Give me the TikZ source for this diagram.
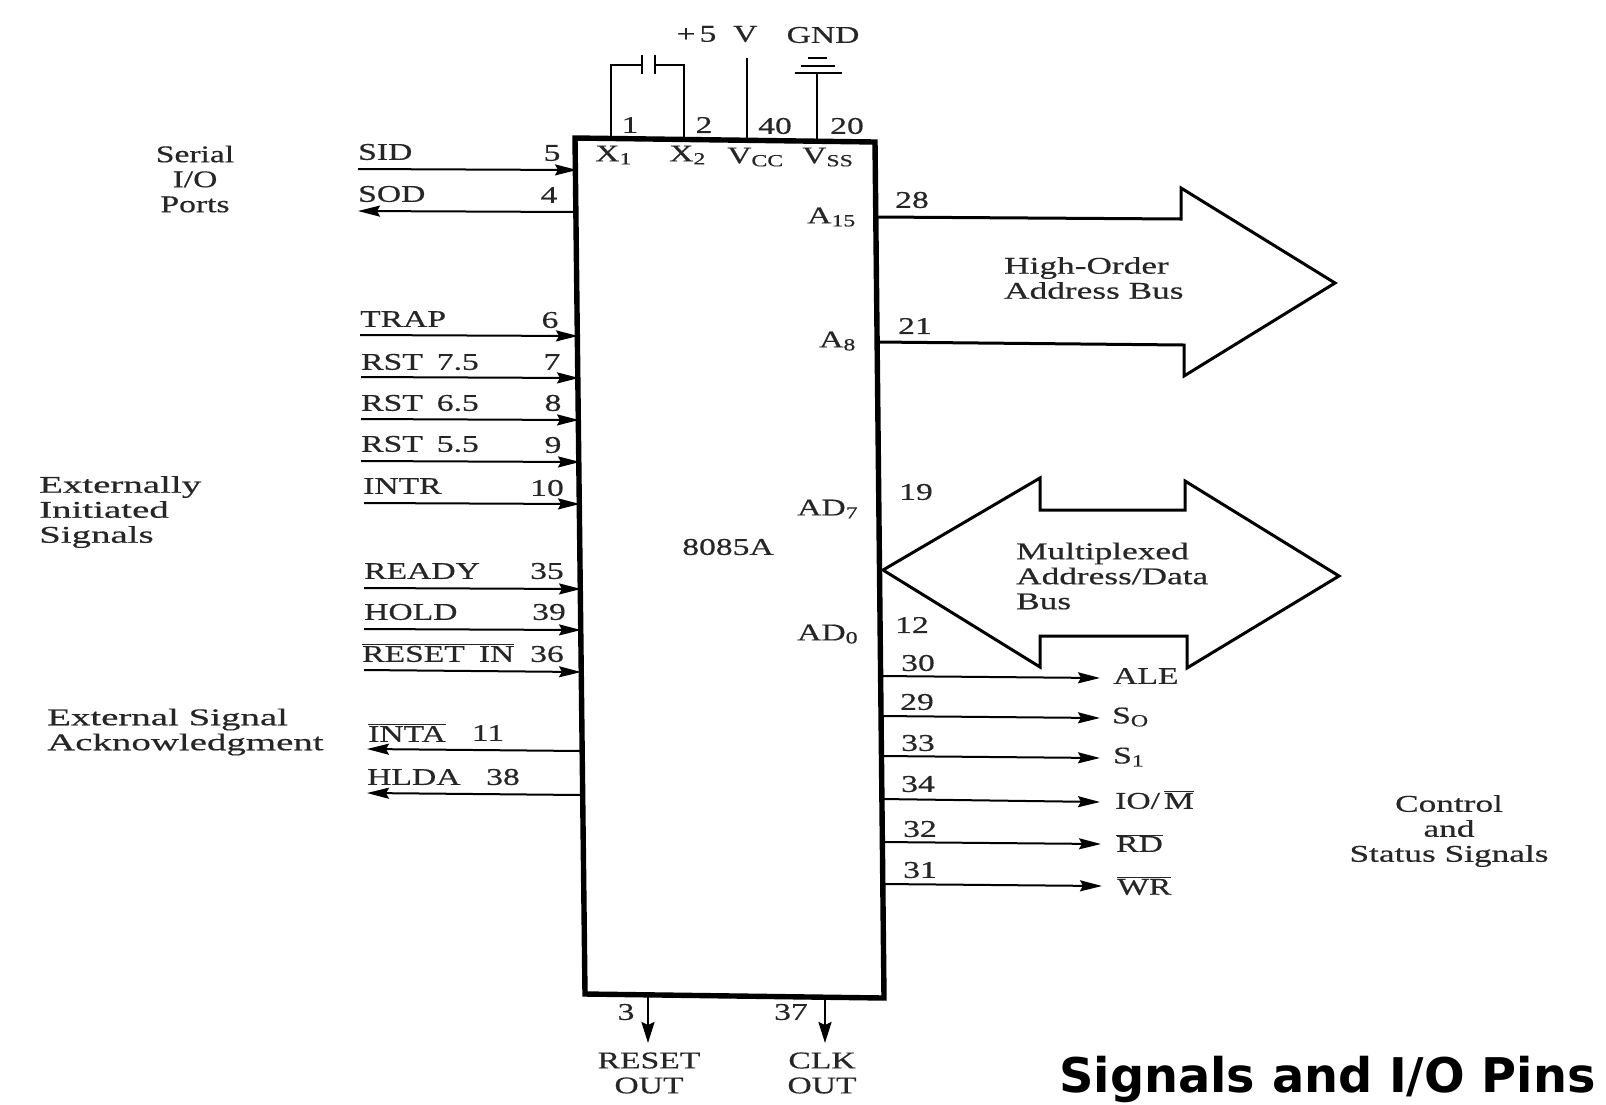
\documentclass[tikz,border=0pt]{standalone}
\usepackage{fontspec}
\setmainfont[FakeStretch=1.4,FakeBold=0.5]{Liberation Serif}
\newfontfamily\midfont[FakeStretch=1.47,FakeBold=0.5]{Liberation Serif}
\newfontfamily\widefont[FakeStretch=1.62,FakeBold=0.5]{Liberation Serif}
\newfontfamily\titlefont{DejaVu Sans}
\usetikzlibrary{arrows.meta}
\newcommand{\subs}[1]{\raisebox{-3pt}{\fontsize{17}{18}\selectfont #1}}
\newcommand{\ovl}[1]{$\overline{\mbox{#1}}$}
\tikzset{
  x=1pt,y=-1pt,
  lab/.style={inner sep=0pt,anchor=west,font=\fontsize{24}{25}\selectfont,text=black!85},
  num/.style={inner sep=0pt,anchor=center,font=\fontsize{24}{25}\selectfont,text=black!85},
  blk/.style={inner sep=0pt,align=left,anchor=west,font=\midfont\fontsize{24}{25}\selectfont,text=black!85},
  wideblk/.style={blk,font=\widefont\fontsize{24}{25}\selectfont},
  ctr/.style={inner sep=0pt,align=center,anchor=center,font=\fontsize{24}{25}\selectfont,text=black!85},
  chipline/.style={line width=5.4pt,line join=miter},
  wire/.style={line width=2.6pt},
  sigin/.style={line width=2pt,-{Stealth[length=22pt,width=11pt,inset=3pt]}},
  downarrow/.style={line width=2.6pt,-{Stealth[length=21pt,width=13pt,inset=3pt]}},
  busline/.style={line width=3pt,line join=miter},
}
\begin{document}
\begin{tikzpicture}
\useasboundingbox (0,0) rectangle (1606,1104);
% chip
\coordinate (tl) at (575,138);
\coordinate (tr) at (875,142);
\coordinate (br) at (884,998);
\coordinate (bl) at (585,994);
\draw[chipline] (tl) -- (tr) -- (br) -- (bl) -- cycle;
\node[num] (chipname) at (728,547) {8085A};
% top pins
\coordinate (x1p) at (611,138); \coordinate (x1t) at (611,65);
\coordinate (x2p) at (684,139); \coordinate (x2t) at (684,65);
\coordinate (capl) at (642,65); \coordinate (capr) at (655,65);
\coordinate (capla) at (642,55); \coordinate (caplb) at (642,74);
\coordinate (capra) at (655,55); \coordinate (caprb) at (655,74);
\draw[wire] (x1p) -- (x1t) -- (capl);
\draw[wire] (x2p) -- (x2t) -- (capr);
\draw[wire] (capla) -- (caplb);
\draw[wire] (capra) -- (caprb);
\coordinate (vccp) at (747,140); \coordinate (vcct) at (747,58);
\draw[wire] (vccp) -- (vcct);
\coordinate (vssp) at (817,141); \coordinate (vsst) at (817,73);
\draw[wire] (vssp) -- (vsst);
\coordinate (g1a) at (795,73); \coordinate (g1b) at (842,73);
\coordinate (g2a) at (801,66); \coordinate (g2b) at (835,66);
\coordinate (g3a) at (808,58); \coordinate (g3b) at (827,58);
\draw[wire] (g1a) -- (g1b);
\draw[wire] (g2a) -- (g2b);
\draw[wire] (g3a) -- (g3b);
\node[num] (n1) at (630,125) {1};
\node[num] (n2) at (704,125) {2};
\node[num] (n40) at (775,126) {40};
\node[num] (n20) at (847,126) {20};
\node[lab] (lx1) at (595,155) {X\subs{1}};
\node[lab] (lx2) at (669,155) {X\subs{2}};
\node[lab] (lvcc) at (727,157) {V\subs{CC}};
\node[lab] (lvss) at (802,157) {V\subs{SS}};
\node[num] (l5v) at (717,34) {+\,5\ \ V};
\node[num] (lgnd) at (823,35) {GND};
% left signals
\coordinate (sida) at (358,169); \coordinate (sidb) at (577,170);
\coordinate (soda) at (358,211); \coordinate (sodb) at (577,212);
\coordinate (trapa) at (360,335); \coordinate (trapb) at (578,336);
\coordinate (r75a) at (361,377); \coordinate (r75b) at (579,378);
\coordinate (r65a) at (361,419); \coordinate (r65b) at (579,420);
\coordinate (r55a) at (361,461); \coordinate (r55b) at (580,462);
\coordinate (intra) at (364,503); \coordinate (intrb) at (580,504);
\coordinate (rdya) at (364,588); \coordinate (rdyb) at (581,589);
\coordinate (hlda) at (364,629); \coordinate (hldb) at (581,630);
\coordinate (rsta) at (364,670); \coordinate (rstb) at (581,672);
\coordinate (intaa) at (367,749); \coordinate (intab) at (582,751);
\coordinate (hldaa) at (367,793); \coordinate (hldab) at (582,795);
\draw[sigin] (sida) -- (sidb);
\draw[sigin] (sodb) -- (soda);
\draw[sigin] (trapa) -- (trapb);
\draw[sigin] (r75a) -- (r75b);
\draw[sigin] (r65a) -- (r65b);
\draw[sigin] (r55a) -- (r55b);
\draw[sigin] (intra) -- (intrb);
\draw[sigin] (rdya) -- (rdyb);
\draw[sigin] (hlda) -- (hldb);
\draw[sigin] (rsta) -- (rstb);
\draw[sigin] (intab) -- (intaa);
\draw[sigin] (hldab) -- (hldaa);
\node[lab] (lsid) at (358,152) {SID};
\node[lab] (lsod) at (358,194) {SOD};
\node[lab] (ltrap) at (360,319) {TRAP};
\node[lab] (lr75) at (361,362) {RST\hspace{14pt}7.5};
\node[lab] (lr65) at (361,403) {RST\hspace{14pt}6.5};
\node[lab] (lr55) at (361,444) {RST\hspace{14pt}5.5};
\node[lab] (lintr) at (363,486) {INTR};
\node[lab] (lrdy) at (364,571) {READY};
\node[lab] (lhld) at (364,612) {HOLD};
\node[lab] (lrst) at (362,653) {\ovl{RESET\hspace{14pt}IN}};
\node[lab] (linta) at (368,733) {\ovl{INTA}};
\node[lab] (lhlda) at (367,777) {HLDA};
\node[num] (n5) at (552,153) {5};
\node[num] (n4) at (549,195) {4};
\node[num] (n6) at (550,320) {6};
\node[num] (n7) at (552,362) {7};
\node[num] (n8) at (553,403) {8};
\node[num] (n9) at (553,445) {9};
\node[num] (n10) at (547,488) {10};
\node[num] (n35) at (547,571) {35};
\node[num] (n39) at (549,612) {39};
\node[num] (n36) at (547,654) {36};
\node[num] (n11) at (488,733) {11};
\node[num] (n38) at (503,777) {38};
\node[ctr] (gserial) at (195,179) {Serial\\I/O\\Ports};
\node[wideblk] (gext) at (39,512) {Externally\\Initiated\\Signals};
\node[wideblk] (gack) at (47,732) {External Signal\\Acknowledgment};
% right signals
\coordinate (alea) at (881,676); \coordinate (aleb) at (1100,678);
\coordinate (s0a) at (881,716); \coordinate (s0b) at (1100,718);
\coordinate (s1a) at (882,756); \coordinate (s1b) at (1100,758);
\coordinate (ioa) at (882,799); \coordinate (iob) at (1100,802);
\coordinate (rda) at (882,842); \coordinate (rdb) at (1101,844);
\coordinate (wra) at (883,884); \coordinate (wrb) at (1102,886);
\draw[sigin] (alea) -- (aleb);
\draw[sigin] (s0a) -- (s0b);
\draw[sigin] (s1a) -- (s1b);
\draw[sigin] (ioa) -- (iob);
\draw[sigin] (rda) -- (rdb);
\draw[sigin] (wra) -- (wrb);
\node[num] (n30) at (918,663) {30};
\node[num] (n29) at (917,702) {29};
\node[num] (n33) at (918,743) {33};
\node[num] (n34) at (918,784) {34};
\node[num] (n32) at (920,829) {32};
\node[num] (n31) at (920,870) {31};
\node[lab] (lale) at (1113,676) {ALE};
\node[lab] (ls0) at (1112,717) {S\subs{O}};
\node[lab] (ls1) at (1113,757) {S\subs{1}};
\node[lab] (lio) at (1115,800) {IO/\,\ovl{M}};
\node[lab] (lrd) at (1116,843) {\ovl{RD}};
\node[lab] (lwr) at (1117,886) {\ovl{WR}};
\node[ctr,font=\midfont\fontsize{24}{25}\selectfont] (lctl) at (1449,831) {Control\\and\\Status Signals};
% high-order bus
\coordinate (ha) at (877,217); \coordinate (hb) at (1181,219); \coordinate (hc) at (1181,188);
\coordinate (hd) at (1335,283); \coordinate (he) at (1184,376); \coordinate (hf) at (1184,345);
\coordinate (hg) at (877,342);
\draw[busline] (ha) -- (hb) -- (hc) -- (hd) -- (he) -- (hf) -- (hg);
\node[num] (n28) at (912,200) {28};
\node[num] (n21) at (915,326) {21};
\node[lab] (la15) at (807,217) {A\subs{15}};
\node[lab] (la8) at (819,341) {A\subs{8}};
\node[blk] (lhigh) at (1004,278) {High-Order\\Address Bus};
% multiplexed bus
\coordinate (ma) at (883,570); \coordinate (mb) at (1040,478); \coordinate (mc) at (1040,510);
\coordinate (md) at (1185,510); \coordinate (me) at (1185,481); \coordinate (mf) at (1339,576);
\coordinate (mg) at (1187,668); \coordinate (mh) at (1187,636); \coordinate (mi) at (1040,636);
\coordinate (mj) at (1040,667);
\draw[busline] (ma) -- (mb) -- (mc) -- (md) -- (me) -- (mf) -- (mg) -- (mh) -- (mi) -- (mj) -- cycle;
\node[num] (n19) at (916,492) {19};
\node[num] (n12) at (912,625) {12};
\node[lab] (lad7) at (797,509) {AD\subs{7}};
\node[lab] (lad0) at (797,634) {AD\subs{0}};
\node[blk] (lmux) at (1016,576) {Multiplexed\\Address/Data\\Bus};
% bottom
\coordinate (rsp) at (648,996); \coordinate (rse) at (648,1043);
\coordinate (clp) at (825,997); \coordinate (cle) at (825,1043);
\draw[downarrow] (rsp) -- (rse);
\draw[downarrow] (clp) -- (cle);
\node[num] (n3) at (626,1012) {3};
\node[num] (n37) at (791,1012) {37};
\node[ctr] (lrso) at (649,1073) {RESET\\OUT};
\node[ctr] (lclk) at (822,1073) {CLK\\OUT};
\node[inner sep=0pt,anchor=west,font=\titlefont\bfseries\fontsize{47.8}{50}\selectfont] (title) at (1059,1079) {Signals and I/O Pins};
\end{tikzpicture}
\end{document}
